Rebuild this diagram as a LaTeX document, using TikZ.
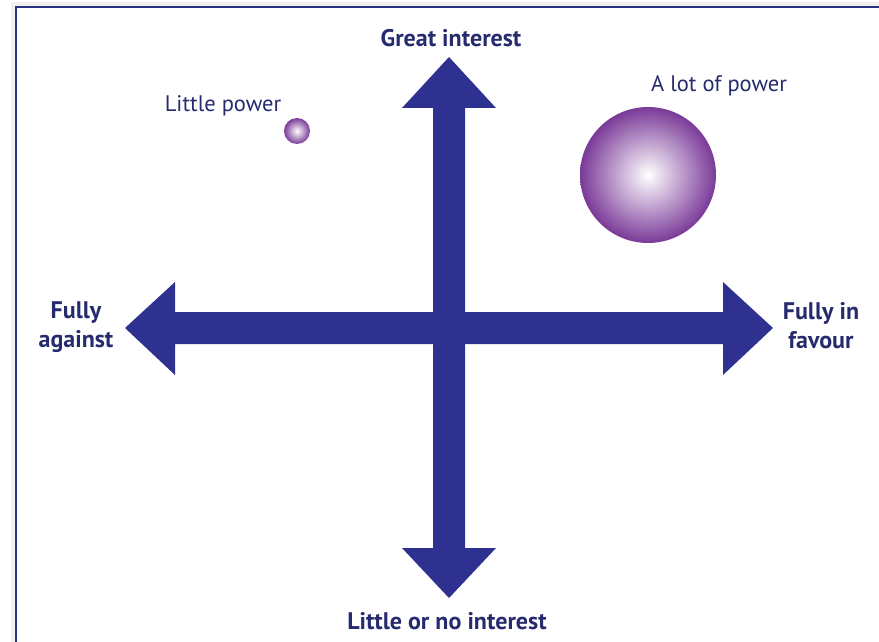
\documentclass[tikz,border=0pt]{standalone}
\usepackage{fontspec}
\setmainfont{PT Sans}
\definecolor{arrowblue}{HTML}{2E3190}
\definecolor{txtblue}{HTML}{262B6E}
\definecolor{framecol}{HTML}{2B3285}
\definecolor{sphere}{HTML}{7A3A98}
\begin{document}
\begin{tikzpicture}[x=1pt,y=-1pt,
  lbl/.style={text=txtblue,font=\fontsize{24}{29}\selectfont\bfseries,align=center,inner sep=0pt},
  plbl/.style={text=txtblue,font=\fontsize{22.5}{26}\selectfont,inner sep=0pt},
  axis/.style={fill=arrowblue,draw=none}]
\useasboundingbox (0,0) rectangle (879,642);
% frame with faint shadow
\draw[line width=4pt,color=black!6] (13,642) -- (13,4) -- (879,4);
\draw[line width=2.2pt,color=framecol] (16,642) -- (16,7) -- (879,7);
% arrows
\fill[axis] (433,108) -- (402,108) -- (449,57) -- (496,108) -- (465,108)
  -- (465,548) -- (496,548) -- (449,598) -- (402,548) -- (433,548) -- cycle;
\fill[axis] (175,312) -- (175,282) -- (125,328) -- (175,375) -- (175,344)
  -- (723,344) -- (723,375) -- (773,328) -- (723,282) -- (723,312) -- cycle;
% spheres
\shade[inner color=white,outer color=sphere] (648,175) circle (68);
\shade[inner color=white,outer color=sphere] (297,131) circle (13);
% labels
\node[lbl] (top) at (451,38) {Great interest};
\node[lbl] (bot) at (447,621) {Little or no interest};
\node[lbl] (left) at (76,327) {Fully\\against};
\node[lbl] (right) at (821,326) {Fully in\\favour};
\node[plbl] (lp) at (223,106) {Little power};
\node[plbl] (alp) at (719,86) {A lot of power};
\end{tikzpicture}
\end{document}
